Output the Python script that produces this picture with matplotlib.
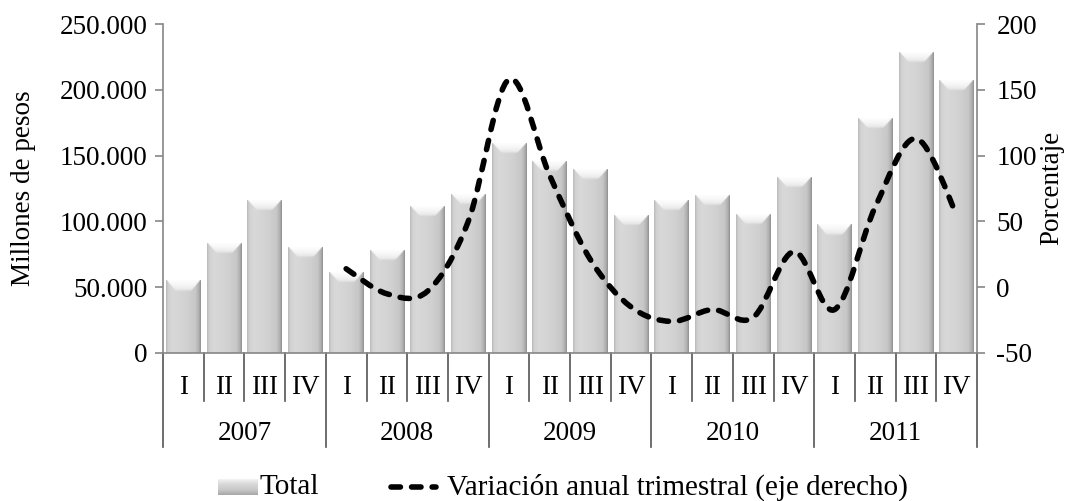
import numpy as np
import matplotlib
matplotlib.use("Agg")
import matplotlib.pyplot as plt
from matplotlib.path import Path
from matplotlib.patches import PathPatch
from matplotlib.lines import Line2D
from matplotlib.ticker import FuncFormatter, MultipleLocator
import matplotlib.transforms as mtransforms

# ---------------- data ----------------
years = ["2007", "2008", "2009", "2010", "2011"]
quarters = ["I", "II", "III", "IV"]
total = [54500, 83700, 116600, 80200,
         61700, 78600, 112000, 121000,
         159500, 145700, 140000, 104500,
         116600, 119700, 106000, 133900,
         97100, 178200, 228900, 207800]
# variación anual trimestral (%), available from 2008-I
variacion = [14, -5, -3, 50,
             158, 85, 21, -15,
             -26, -17, -23, 27,
             -17, 61, 113, 55]
var_start = 4

FONT = ["Liberation Serif", "DejaVu Serif"]
plt.rcParams["font.family"] = FONT
FS = 19.5
FSL = 21
AXC = "#868686"

W, H, DPI = 1069, 501, 100
fig = plt.figure(figsize=(W / DPI, H / DPI), dpi=DPI)
L, R, B, T = 163, 977, 353, 24
ax = fig.add_axes([L / W, 1 - B / H, (R - L) / W, (B - T) / H])
ax2 = ax.twinx()

n = len(total)
x = np.arange(n)

# ---------------- bars with gradient ----------------
bw = 0.85
prof_u = [0.0, 0.06, 0.2, 0.6, 0.85, 0.95, 1.0]
prof_v = [0.73, 0.82, 0.85, 0.82, 0.78, 0.68, 0.57]
NU = 80
u = np.linspace(0, 1, NU)
body = np.interp(u, prof_u, prof_v)
body_img = np.repeat(body[None, :, None], 3, axis=2)

cap_px = 11
px_per_unit = (B - T) / 250000.0
cap_h = cap_px / px_per_unit
NT = 30
t = np.linspace(0, 1, NT)[:, None]
uu = u[None, :]
edge = np.clip(((0.5 - 0.28 * t) - np.abs(uu - 0.5)) / 0.04, 0, 1)
light = 0.99 - 0.11 * t ** 1.5
cap = body[None, :] * (1 - edge) + light * edge
fade = np.clip((t - 0.78) / 0.22, 0, 1)
cap = cap * (1 - fade) + body[None, :] * fade
cap_img = np.repeat(cap[:, :, None], 3, axis=2)

for xi, v in zip(x, total):
    x0, x1 = xi - bw / 2, xi + bw / 2
    ax.imshow(body_img, extent=(x0, x1, 0, v - cap_h), aspect="auto",
              interpolation="bilinear", zorder=2)
    ax.imshow(cap_img, extent=(x0, x1, v - cap_h, v), aspect="auto",
              interpolation="bilinear", zorder=2, origin="upper")
ax.set_xlim(-0.5, n - 0.5)
ax.set_ylim(0, 250000)
ax2.set_ylim(-50, 200)

# ---------------- smoothed dashed line (Excel-like Bezier) ----------------
px = x[var_start:].astype(float)
py = np.array(variacion, dtype=float)
pts = np.column_stack([px, py])
m = len(pts)
verts = [pts[0]]
codes = [Path.MOVETO]
for i in range(m - 1):
    p0 = pts[i - 1] if i > 0 else pts[i]
    p1 = pts[i]
    p2 = pts[i + 1]
    p3 = pts[i + 2] if i + 2 < m else pts[i + 1]
    c1 = p1 + (p2 - p0) / 6.0
    c2 = p2 - (p3 - p1) / 6.0
    verts += [c1, c2, p2]
    codes += [Path.CURVE4] * 3
path = Path(verts, codes)
LW = 4.0
DASH = (0, (1.7, 2.0))
ax2.add_patch(PathPatch(path, facecolor="none", edgecolor="black", lw=LW,
                        linestyle=DASH, capstyle="round", zorder=5))

# ---------------- axes styling ----------------
for a in (ax, ax2):
    a.spines["top"].set_visible(False)
    for s in ("left", "right", "bottom"):
        a.spines[s].set_color(AXC)
        a.spines[s].set_linewidth(1.2)
ax.spines["right"].set_visible(False)
ax2.spines["left"].set_visible(False)
ax2.spines["bottom"].set_visible(False)

ax.yaxis.set_major_locator(MultipleLocator(50000))
ax.yaxis.set_major_formatter(FuncFormatter(lambda v, p: f"{v:,.0f}".replace(",", ".")))
ax.tick_params(axis="y", direction="out", length=6, width=1.2, color=AXC,
               labelsize=FS, pad=5)
ax2.yaxis.set_major_locator(MultipleLocator(50))
ax2.yaxis.set_major_formatter(FuncFormatter(lambda v, p: f"{v:.0f}"))
ax2.tick_params(axis="y", direction="out", length=6, width=1.2, color=AXC,
                labelsize=FS, pad=8)
ax.set_xticks([])

fig.text(24 / W, 1 - 188 / H, "Millones de pesos", rotation=90, fontsize=FS,
         ha="center", va="center")
fig.text(1052 / W, 1 - 188 / H, "Porcentaje", rotation=90, fontsize=FS,
         ha="center", va="center")

# ---------------- multi-level category axis ----------------
trans = mtransforms.blended_transform_factory(ax.transData, ax.transAxes)
yq_end = -(401 - B) / (B - T)
yy_end = -(447 - B) / (B - T)
yq_lab = -(388 - B) / (B - T)
yy_lab = -(434 - B) / (B - T)
for k in range(n + 1):
    xb = k - 0.5
    yend = yy_end if k % 4 == 0 else yq_end
    ax.add_line(Line2D([xb, xb], [0, yend], transform=trans, color="#555555",
                       lw=1.2, clip_on=False))
for k in range(n):
    ax.text(k, yq_lab, quarters[k % 4], transform=trans, ha="center", va="center",
            fontsize=FS)
for j, yr in enumerate(years):
    ax.text(4 * j + 1.5, yy_lab, yr, transform=trans, ha="center", va="center",
            fontsize=FS)

# ---------------- legend (manual) ----------------
ly = 487
icon = fig.add_axes([218 / W, 1 - 495 / H, 40 / W, 16 / H])
vprof = np.interp(np.linspace(0, 1, 20), [0, 0.3, 0.7, 1.0], [0.95, 0.85, 0.78, 0.66])
icon.imshow(np.repeat(np.repeat(vprof[:, None], 40, axis=1)[:, :, None], 3, axis=2),
            aspect="auto", interpolation="bilinear", extent=(0, 1, 0, 1))
icon.set_axis_off()
fig.text(259 / W, 1 - ly / H, "Total", fontsize=FSL, va="center", ha="left")
fig.add_artist(Line2D([391 / W, 436 / W], [1 - ly / H, 1 - ly / H], transform=fig.transFigure,
                      color="black", lw=LW, linestyle=DASH, dash_capstyle="round"))
fig.text(447 / W, 1 - ly / H, "Variación anual trimestral (eje derecho)", fontsize=FSL,
         va="center", ha="left")

fig.savefig("out.png", dpi=DPI)
